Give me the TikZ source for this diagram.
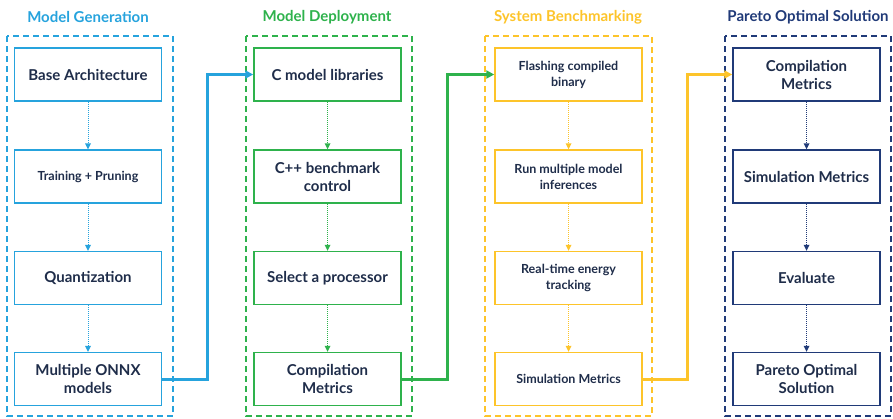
\documentclass[tikz,border=0pt]{standalone}
\usepackage{fontspec}
\setmainfont{Lato}
\usetikzlibrary{arrows.meta}
\definecolor{cblue}{HTML}{26A3DD}
\definecolor{cgreen}{HTML}{2EB24C}
\definecolor{cyellow}{HTML}{FDC42A}
\definecolor{cnavy}{HTML}{203A78}
\definecolor{ctext}{HTML}{1F2D4A}
\tikzset{
  stepbox/.style={draw=#1, line width=1.5pt, minimum width=147pt, minimum height=53pt,
    align=center, text=ctext, font=\bfseries\fontsize{15}{18}\selectfont, inner sep=2pt, fill=white},
  smallbox/.style={stepbox=#1, font=\bfseries\fontsize{12.5}{16}\selectfont},
  container/.style={draw=#1, line width=1.5pt, dash pattern=on 6pt off 4pt},
  title/.style={text=#1, font=\bfseries\fontsize{15}{18}\selectfont},
  dotarrow/.style={draw=#1, line width=1pt, dash pattern=on 1pt off 1pt, -{Triangle[length=6pt,width=6pt,fill=#1,line width=0pt]}},
  flow/.style={draw=#1, line width=3pt, -{Triangle[length=8pt,width=8pt]}},
}
\begin{document}
\begin{tikzpicture}[x=1pt,y=-1pt]
\useasboundingbox (0,0) rectangle (893,418);
% containers
\draw[container=cblue] (7,36) rectangle (173,416);
\draw[container=cgreen] (246,36) rectangle (412,416);
\draw[container=cyellow] (485,36) rectangle (652,416);
\draw[container=cnavy] (725,36) rectangle (891,416);
% titles
\node[title=cblue] (t1) at (88,17) {Model Generation};
\node[title=cgreen] (t2) at (327,17) {Model Deployment};
\node[title=cyellow] (t3) at (568,17) {System Benchmarking};
\node[title=cnavy] (t4) at (808,17) {Pareto Optimal Solution};
% column 1
\node[stepbox=cblue] (a1) at (88,74.5) {Base Architecture};
\node[smallbox=cblue] (a2) at (88,176.5) {Training + Pruning};
\node[stepbox=cblue] (a3) at (88,278) {Quantization};
\node[stepbox=cblue] (a4) at (88,379) {Multiple ONNX\\models};
% column 2
\node[stepbox=cgreen] (b1) at (327.5,74.5) {C model libraries};
\node[stepbox=cgreen] (b2) at (327.5,176.5) {C++ benchmark\\control};
\node[stepbox=cgreen] (b3) at (327.5,278) {Select a processor};
\node[stepbox=cgreen] (b4) at (327.5,379) {Compilation\\Metrics};
% column 3
\node[smallbox=cyellow] (c1) at (568.5,74.5) {Flashing compiled\\binary};
\node[smallbox=cyellow] (c2) at (568.5,176.5) {Run multiple model\\inferences};
\node[smallbox=cyellow] (c3) at (568.5,278) {Real-time energy\\tracking};
\node[smallbox=cyellow] (c4) at (568.5,379) {Simulation Metrics};
% column 4
\node[stepbox=cnavy] (d1) at (806.5,74.5) {Compilation\\Metrics};
\node[stepbox=cnavy] (d2) at (806.5,176.5) {Simulation Metrics};
\node[stepbox=cnavy] (d3) at (806.5,278) {Evaluate};
\node[stepbox=cnavy] (d4) at (806.5,379) {Pareto Optimal\\Solution};
% dotted arrows
\foreach \c/\col in {a/cblue,b/cgreen,c/cyellow,d/cnavy}{
  \draw[dotarrow=\col] (\c1.south) -- (\c2.north);
  \draw[dotarrow=\col] (\c2.south) -- (\c3.north);
  \draw[dotarrow=\col] (\c3.south) -- (\c4.north);
}
% flows
\draw[flow=cblue] (a4.east) -- (207,379) -- (207,74.5) -- (b1.west);
\draw[flow=cgreen] (b4.east) -- (447,379) -- (447,74.5) -- (c1.west);
\draw[flow=cyellow] (c4.east) -- (687,379) -- (687,74.5) -- (d1.west);
\end{tikzpicture}
\end{document}
